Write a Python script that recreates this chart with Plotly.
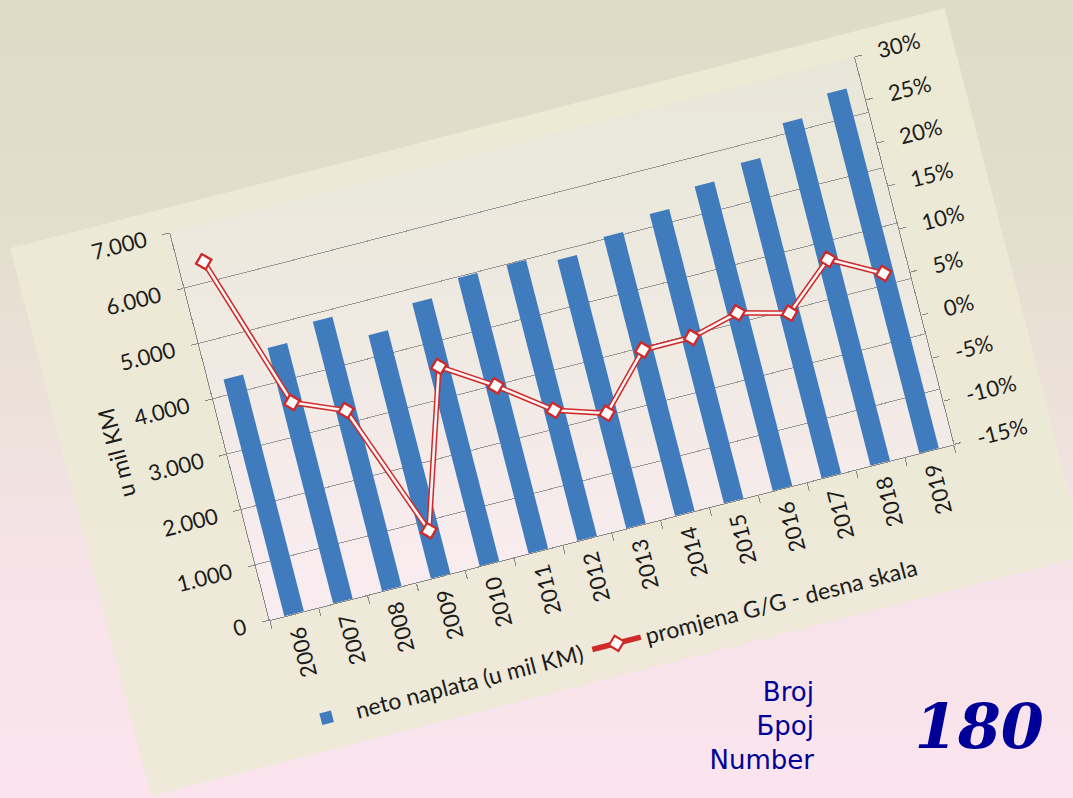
import math
import plotly.graph_objects as go

# ---------------- data ----------------
years = ["2006", "2007", "2008", "2009", "2010", "2011", "2012",
         "2013", "2014", "2015", "2016", "2017", "2018", "2019"]
neto_naplata = [4280, 4620, 4870, 4400, 4750, 4980, 4990,
                4850, 5040, 5230, 5500, 5700, 6190, 6500]
promjena_gg = [25.9, 8.1, 5.7, -9.7, 7.9, 4.2, -0.1,
               -1.9, 4.0, 4.0, 5.4, 3.9, 8.7, 5.6]

left_tick_values = [0, 1000, 2000, 3000, 4000, 5000, 6000, 7000]
left_tick_labels = ["0", "1.000", "2.000", "3.000", "4.000", "5.000", "6.000", "7.000"]
right_tick_values = [-15, -10, -5, 0, 5, 10, 15, 20, 25, 30]
right_tick_labels = ["-15%", "-10%", "-5%", "0%", "5%", "10%", "15%", "20%", "25%", "30%"]

bar_name = "neto naplata (u mil KM)"
line_name = "promjena G/G - desna skala"
left_axis_title = "u mil KM"
issue_caption = "Broj<br>Број<br>Number"
issue_number = "180"

# ---------------- styling / geometry ----------------
BLUE = "#3f7bbd"
RED = "#cf2a2a"
GRID = "#999999"
AXIS = "#8a8a8a"
TEXT = "#1c1c1c"
NAVY = "#000099"
CARD = "rgba(237,233,214,0.93)"

FW, FH = 965, 760          # figure frame (unrotated)
ML, MR, MT, MB = 159, 100, 25, 335
PW, PH = FW - ML - MR, FH - MT - MB
CARD_W, CARD_H = 965, 566
ANGLE = 14.4               # degrees, the whole card is tilted
ORIGIN = (10, 248)         # page position of the card's top-left corner

c, s = math.cos(math.radians(ANGLE)), math.sin(math.radians(ANGLE))


def page_to_paper(px, py):
    dx, dy = px - ORIGIN[0], py - ORIGIN[1]
    u = dx * c - dy * s
    d = dx * s + dy * c
    return (u - ML) / PW, (MT + PH - d) / PH


marker_style = dict(symbol="diamond", size=12, color="white",
                    line=dict(color=RED, width=2.2))

fig = go.Figure()
fig.add_trace(go.Bar(x=years, y=neto_naplata, name=bar_name,
                     marker=dict(color=BLUE, line=dict(width=0)), yaxis="y"))
fig.add_trace(go.Scatter(x=years, y=promjena_gg, name=line_name, yaxis="y2",
                         mode="lines+markers", line=dict(color=RED, width=5.6),
                         marker=marker_style))
fig.add_trace(go.Scatter(x=years, y=promjena_gg, yaxis="y2", mode="lines",
                         line=dict(color="#fbf4f4", width=2.6),
                         showlegend=False, hoverinfo="skip"))
fig.add_trace(go.Scatter(x=years, y=promjena_gg, yaxis="y2", mode="markers",
                         marker=marker_style, showlegend=False, hoverinfo="skip"))

# card frame around the plot area (plot area itself stays see-through)
cx0 = -ML / PW
cx1 = (CARD_W - ML) / PW
cy1 = (MT + PH) / PH
cy0 = (MT + PH - CARD_H) / PH
card_path = (f"M{cx0},{cy0} L{cx1},{cy0} L{cx1},{cy1} L{cx0},{cy1} Z "
             f"M0,0 L0,1 L1,1 L1,0 Z")

bx, by = page_to_paper(761.5, 726)
nx, ny = page_to_paper(979, 727)

fig.update_layout(
    width=FW, height=FH,
    margin=dict(l=ML, r=MR, t=MT, b=MB, pad=0),
    paper_bgcolor="rgba(0,0,0,0)",
    plot_bgcolor="rgba(255,255,255,0.32)",
    font=dict(family="Lato, 'Open Sans', sans-serif", size=22, color=TEXT),
    bargap=0.6,
    showlegend=True,
    legend=dict(orientation="h", x=0.458, xanchor="center", y=-0.272, yanchor="middle",
                font=dict(size=23, color=TEXT), bgcolor="rgba(0,0,0,0)",
                traceorder="normal", itemwidth=50),
    xaxis=dict(type="category", range=[-0.5, len(years) - 0.5],
               showline=True, linecolor=AXIS, linewidth=1.2,
               ticks="outside", tickson="boundaries", ticklen=8, tickcolor=AXIS,
               tickangle=-90, showgrid=False, ticklabelstandoff=4,
               tickfont=dict(size=22, color=TEXT)),
    yaxis=dict(range=[0, 7000], tickvals=left_tick_values, ticktext=left_tick_labels,
               showgrid=True, gridcolor=GRID, gridwidth=1, zeroline=False,
               showline=True, linecolor=AXIS, linewidth=1.2,
               ticks="outside", ticklen=7, tickcolor=AXIS, ticklabelstandoff=12,
               tickfont=dict(size=22, color=TEXT),
               title=dict(text=left_axis_title, font=dict(size=23, color=TEXT), standoff=10)),
    yaxis2=dict(range=[-15, 30], overlaying="y", side="right",
                tickvals=right_tick_values, ticktext=right_tick_labels,
                showgrid=False, zeroline=False, showline=True, linecolor=AXIS, linewidth=1.2,
                ticks="outside", ticklen=7, tickcolor=AXIS, ticklabelstandoff=12,
                tickfont=dict(size=22, color=TEXT)),
    shapes=[dict(type="path", xref="paper", yref="paper", layer="below",
                 path=card_path, fillcolor=CARD, line=dict(width=0))],
    annotations=[
        dict(text=issue_caption, xref="paper", yref="paper", x=bx, y=by,
             xanchor="center", yanchor="middle", align="right", showarrow=False,
             textangle=ANGLE,
             font=dict(family="DejaVu Sans", size=26, color=NAVY)),
        dict(text=issue_number, xref="paper", yref="paper", x=nx, y=ny,
             xanchor="center", yanchor="middle", showarrow=False, textangle=ANGLE,
             font=dict(family="DejaVu Serif", size=62, color=NAVY,
                       weight="bold", style="italic")),
    ],
)

post = """
var gd = document.getElementById('{plot_id}');
var root = document.documentElement;
root.style.margin = '0';
root.style.height = '798px';
root.style.overflow = 'hidden';
root.style.background = 'linear-gradient(180deg, #dedbc7 0%, #e2decc 25%, #ebe1d8 48%, #f6e3e8 70%, #fbe4ee 100%)';
document.body.style.margin = '0';
document.body.style.height = '798px';
document.body.style.overflow = 'hidden';
document.body.style.background = 'transparent';
gd.style.position = 'absolute';
gd.style.left = '""" + str(ORIGIN[0]) + """px';
gd.style.top = '""" + str(ORIGIN[1]) + """px';
gd.style.transformOrigin = '0 0';
gd.style.transform = 'rotate(-""" + str(ANGLE) + """deg)';
"""

fig.write_html("out.html", post_script=post,
               config={"displayModeBar": False, "responsive": False})
